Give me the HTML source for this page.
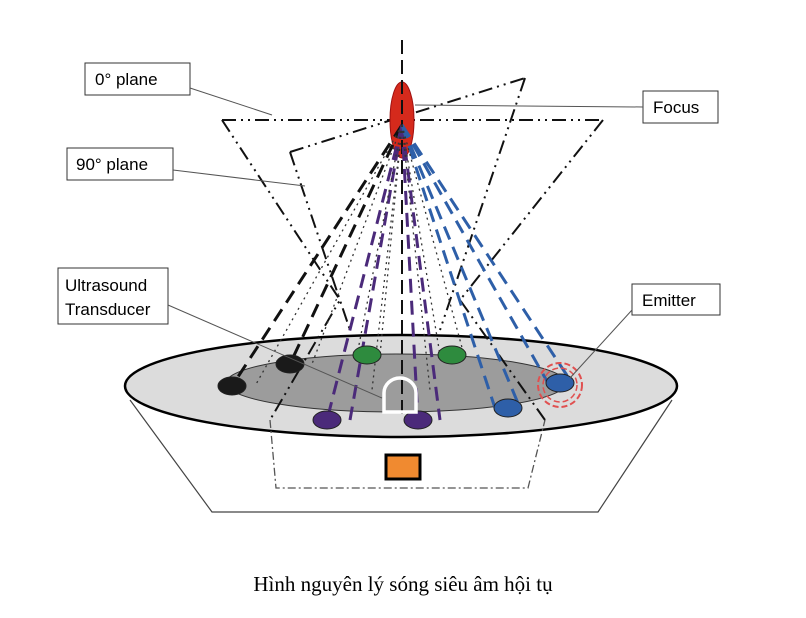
<!DOCTYPE html>
<html><head><meta charset="utf-8"><style>
body{margin:0;background:#fff;width:806px;height:618px;overflow:hidden}
svg{position:absolute;left:0;top:0}
.cap{position:absolute;top:572px;left:0;width:806px;text-align:center;font-family:"Liberation Serif",serif;font-size:21px;color:#000}
</style></head><body>
<svg width="806" height="618" viewBox="0 0 806 618">
<!-- bowl -->
<path d="M130,400 L212,512 L598,512 L672,400" fill="#fff" stroke="#444" stroke-width="1.2"/>
<ellipse cx="401" cy="386" rx="276" ry="51" fill="#dcdcdc" stroke="#000" stroke-width="2.5"/>
<ellipse cx="396" cy="383" rx="170" ry="29" fill="#9c9c9c" stroke="#333" stroke-width="1"/>
<rect x="386" y="455" width="34" height="24" fill="#f08a30" stroke="#000" stroke-width="3"/>
<path d="M270,420 L276,488 L528,488 L545,420" fill="none" stroke="#555" stroke-width="1.3" stroke-dasharray="8,3,2,3"/>
<!-- planes -->
<g fill="none" stroke="#111" stroke-width="2" stroke-dasharray="14,5,2,5,2,5">
<path d="M222,120 L603,120"/>
<path d="M222,120 L340,300 L270,420"/>
<path d="M603,120 L460,300 L545,420"/>
<path d="M290,152 L525,78"/>
<path d="M290,152 L350,330"/>
<path d="M525,78 L440,330"/>
</g>
<!-- focus -->
<ellipse cx="402" cy="120" rx="12" ry="38" fill="#d52a1c" stroke="#a01010" stroke-width="1"/>
<line x1="402" y1="40" x2="402" y2="420" stroke="#111" stroke-width="2" stroke-dasharray="14,6"/>
<!-- beams -->
<g fill="none" stroke-width="3" stroke-dasharray="14,8">
<path d="M402,125 L232,386" stroke="#111"/>
<path d="M402,125 L290,364" stroke="#111"/>
<path d="M402,125 L327,420" stroke="#4b2a7a"/>
<path d="M402,125 L350,420" stroke="#4b2a7a"/>
<path d="M402,125 L418,420" stroke="#4b2a7a"/>
<path d="M402,125 L440,420" stroke="#4b2a7a"/>
<path d="M402,125 L495,408" stroke="#2e5fa8"/>
<path d="M402,125 L520,408" stroke="#2e5fa8"/>
<path d="M402,125 L548,383" stroke="#2e5fa8"/>
<path d="M402,125 L572,383" stroke="#2e5fa8"/>
</g>
<g fill="none" stroke="#333" stroke-width="1.3" stroke-dasharray="2,4">
<path d="M402,125 L255,386"/><path d="M402,125 L312,364"/>
<path d="M402,125 L357,355"/><path d="M402,125 L380,355"/>
<path d="M402,125 L440,355"/><path d="M402,125 L464,355"/>
<path d="M402,125 L372,390"/><path d="M402,125 L430,390"/>
</g>
<!-- dots -->
<g stroke="#222" stroke-width="1">
<ellipse cx="232" cy="386" rx="14" ry="9" fill="#1a1a1a"/>
<ellipse cx="290" cy="364" rx="14" ry="9" fill="#1a1a1a"/>
<ellipse cx="367" cy="355" rx="14" ry="9" fill="#2e8b3e"/>
<ellipse cx="452" cy="355" rx="14" ry="9" fill="#2e8b3e"/>
<ellipse cx="327" cy="420" rx="14" ry="9" fill="#4b2a7a"/>
<ellipse cx="418" cy="420" rx="14" ry="9" fill="#4b2a7a"/>
<ellipse cx="508" cy="408" rx="14" ry="9" fill="#2e5fa8"/>
<ellipse cx="560" cy="383" rx="14" ry="9" fill="#2e5fa8"/>
</g>
<circle cx="560" cy="385" r="22" fill="none" stroke="#e05050" stroke-width="2" stroke-dasharray="6,3"/>
<circle cx="560" cy="385" r="17" fill="none" stroke="#e05050" stroke-width="1.5" stroke-dasharray="6,3"/>
<!-- transducer -->
<path d="M384,412 L384,393 A16,15 0 0 1 416,393 L416,412 Z" fill="none" stroke="#fff" stroke-width="3.5"/>
<!-- labels -->
<g font-family="Liberation Sans, sans-serif" font-size="17" fill="#000">
<rect x="85" y="63" width="105" height="32" fill="#fff" stroke="#333"/><text x="95" y="85">0°  plane</text>
<rect x="67" y="148" width="106" height="32" fill="#fff" stroke="#333"/><text x="76" y="170">90°  plane</text>
<rect x="58" y="268" width="110" height="56" fill="#fff" stroke="#333"/><text x="65" y="291">Ultrasound</text><text x="65" y="315">Transducer</text>
<rect x="643" y="91" width="75" height="32" fill="#fff" stroke="#333"/><text x="653" y="113">Focus</text>
<rect x="632" y="284" width="88" height="31" fill="#fff" stroke="#333"/><text x="642" y="306">Emitter</text>
</g>
<g stroke="#555" stroke-width="1" fill="none">
<path d="M190,88 L272,115"/><path d="M173,170 L305,186"/>
<path d="M168,305 L382,398"/><path d="M643,107 L415,105"/>
<path d="M632,310 L570,378"/>
</g>
</svg>
<div class="cap">Hình nguyên lý sóng siêu âm hội tụ</div>
</body></html>
